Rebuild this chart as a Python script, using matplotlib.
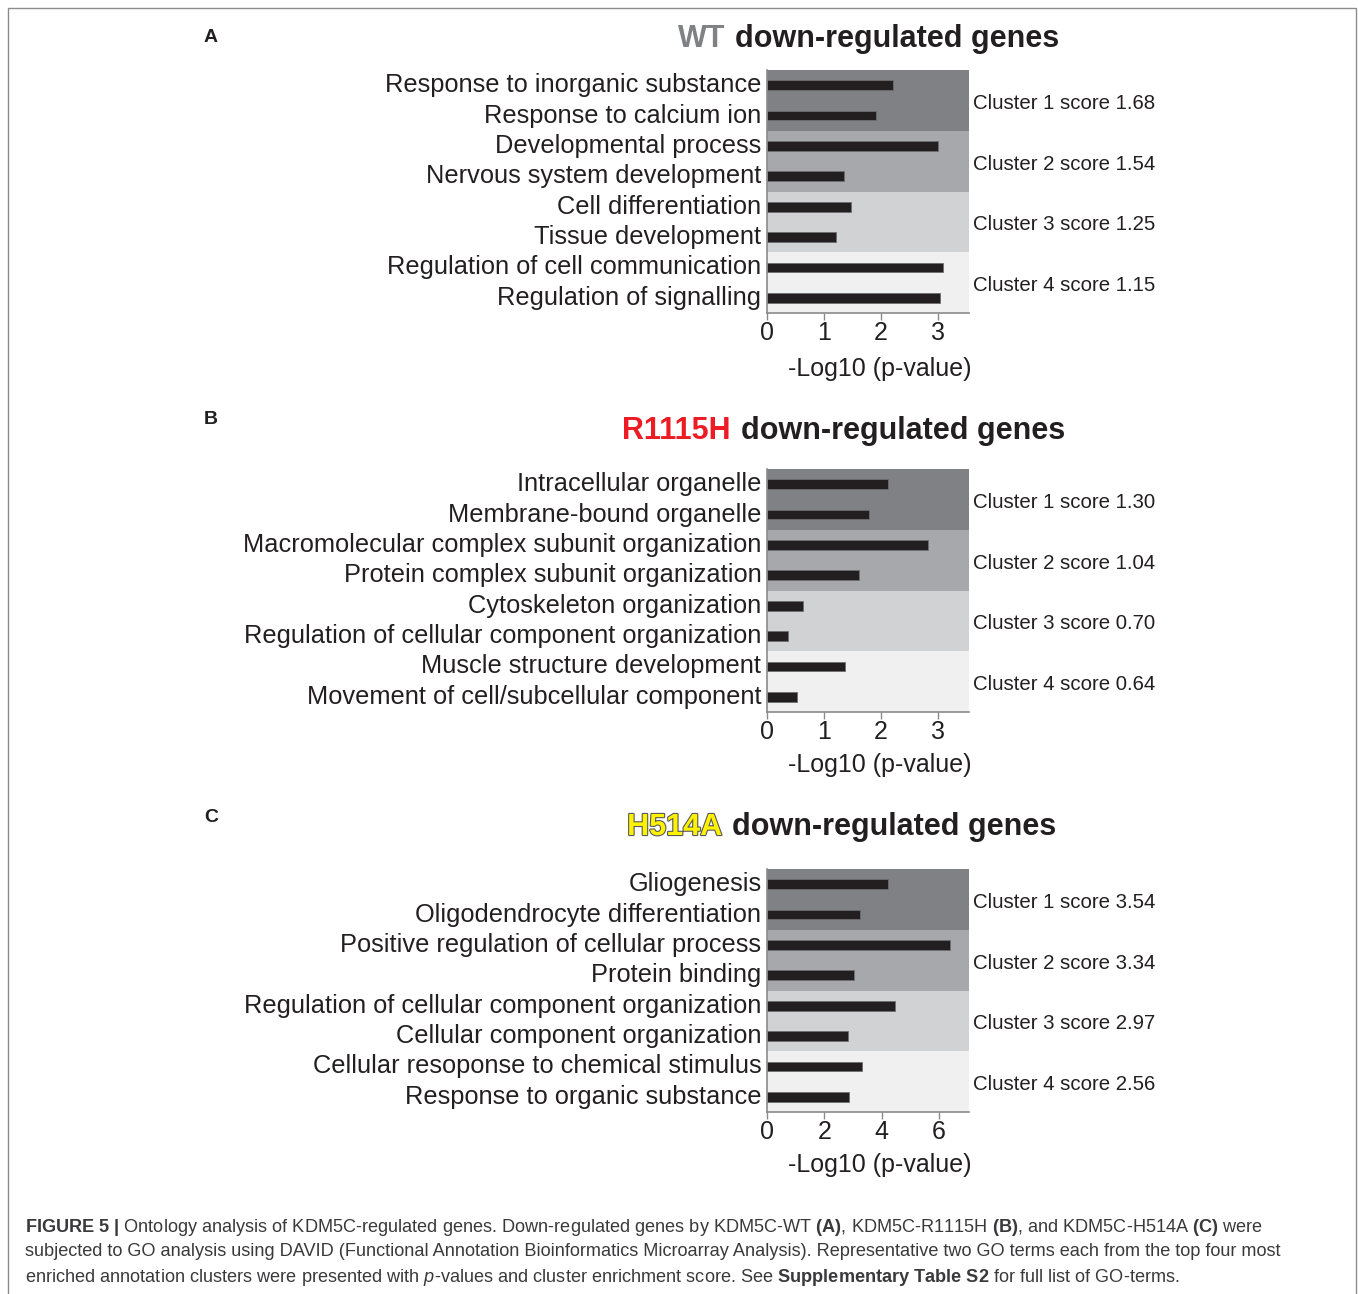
import matplotlib
matplotlib.use("Agg")
import matplotlib.pyplot as plt
import matplotlib.patheffects as pe
from matplotlib.patches import Rectangle
from matplotlib.transforms import blended_transform_factory

plt.rcParams['font.family'] = ['Liberation Sans', 'DejaVu Sans']
plt.rcParams['mathtext.fontset'] = 'custom'
plt.rcParams['mathtext.rm'] = 'Liberation Sans'
plt.rcParams['mathtext.bf'] = 'Liberation Sans:bold'
plt.rcParams['mathtext.it'] = 'Liberation Sans:italic'

W, H = 1358, 1294
TXT = '#231f20'
BAND_COLORS = ['#808184', '#a7a8ab', '#d1d2d4', '#f0f0f0']

# panel A: WT
wt_terms = ['Response to inorganic substance', 'Response to calcium ion',
            'Developmental process', 'Nervous system development',
            'Cell differentiation', 'Tissue development',
            'Regulation of cell communication', 'Regulation of signalling']
wt_vals = [2.20, 1.91, 3.00, 1.35, 1.47, 1.21, 3.09, 3.04]
wt_scores = ['1.68', '1.54', '1.25', '1.15']

# panel B: R1115H
r_terms = ['Intracellular organelle', 'Membrane-bound organelle',
           'Macromolecular complex subunit organization',
           'Protein complex subunit organization', 'Cytoskeleton organization',
           'Regulation of cellular component organization',
           'Muscle structure development',
           'Movement of cell/subcellular component']
r_vals = [2.12, 1.78, 2.82, 1.61, 0.63, 0.36, 1.37, 0.53]
r_scores = ['1.30', '1.04', '0.70', '0.64']

# panel C: H514A
h_terms = ['Gliogenesis', 'Oligodendrocyte differentiation',
           'Positive regulation of cellular process', 'Protein binding',
           'Regulation of cellular component organization',
           'Cellular component organization',
           'Cellular resoponse to chemical stimulus',
           'Response to organic substance']
h_vals = [4.23, 3.26, 6.39, 3.04, 4.46, 2.83, 3.31, 2.87]
h_scores = ['3.54', '3.34', '2.97', '2.56']


def fx(px):
    return px / W


def fy(py):
    return 1 - py / H


fig = plt.figure(figsize=(W / 100, H / 100), dpi=100)
fig.patches.append(Rectangle((fx(8), -0.01), fx(1348), fy(8) + 0.01,
                             transform=fig.transFigure, fill=False,
                             edgecolor='#8c8c8c', lw=1.0))


def panel(top, terms, vals, scores, xmax, ticks, ylab_y):
    ax = fig.add_axes([fx(767), fy(top + 243), fx(202), 243 / H])
    n = len(terms)
    for k, c in enumerate(BAND_COLORS):
        ax.axhspan(2 * k - 0.5, 2 * k + 1.5, color=c, lw=0, zorder=0)
    ax.barh(range(n), vals, height=0.32, color=TXT, edgecolor='#6d6e70',
            lw=0.6, zorder=2)
    ax.set_xlim(0, xmax)
    ax.set_ylim(n - 0.5, -0.5)
    ax.set_yticks(range(n))
    ax.set_yticklabels(terms, fontsize=18.3, color=TXT, va='center')
    for lab in ax.get_yticklabels():
        lab.set_y(lab.get_position()[1])
    ax.tick_params(axis='y', length=0, pad=4)
    ax.set_xticks(ticks)
    ax.set_xticklabels([str(t) for t in ticks], fontsize=18, color=TXT)
    ax.tick_params(axis='x', length=5, width=1, color='#8a8a8a', pad=1)
    for s in ['top', 'right']:
        ax.spines[s].set_visible(False)
    for s in ['left', 'bottom']:
        ax.spines[s].set_color('#8a8a8a')
        ax.spines[s].set_linewidth(1.2)
    ax.set_xlabel('-Log10 (p-value)', fontsize=18, color=TXT, va='center')
    ax.xaxis.set_label_coords((880 - 767) / 202, -(ylab_y - top - 243) / 243,
                              transform=ax.transAxes)
    tr = blended_transform_factory(ax.transAxes, ax.transData)
    for k, sc in enumerate(scores):
        ax.text(1.02, 2 * k + 0.6, f'Cluster {k + 1} score {sc}', transform=tr,
                fontsize=14.7, color=TXT, va='center', ha='left')
    return ax


panel(70, wt_terms, wt_vals, wt_scores, 3.54, [0, 1, 2, 3], 369)
panel(469, r_terms, r_vals, r_scores, 3.54, [0, 1, 2, 3], 765)
panel(869, h_terms, h_vals, h_scores, 7.05, [0, 2, 4, 6], 1165)

# titles
title_kw = dict(fontsize=22, fontweight='bold', va='center')
fig.text(fx(725), fy(39), 'WT', color='#808184', ha='right', **title_kw)
fig.text(fx(735), fy(39), 'down-regulated genes', color=TXT, ha='left', **title_kw)
fig.text(fx(731), fy(431), 'R1115H', color='#ed1c24', ha='right', **title_kw)
fig.text(fx(741), fy(431), 'down-regulated genes', color=TXT, ha='left', **title_kw)
fig.text(fx(722), fy(827), 'H514A', color='#fff200', ha='right',
         path_effects=[pe.withStroke(linewidth=1.6, foreground='#58595b')], **title_kw)
fig.text(fx(732), fy(827), 'down-regulated genes', color=TXT, ha='left', **title_kw)

for letter, y in [('A', 38), ('B', 420), ('C', 817)]:
    fig.text(fx(211), fy(y), letter, fontsize=14, fontweight='bold',
             color=TXT, ha='center', va='center')

caption = [
    r'$\mathbf{FIGURE\ 5\ |}$ Ontology analysis of KDM5C-regulated genes. '
    r'Down-regulated genes by KDM5C-WT $\mathbf{(A)}$, KDM5C-R1115H $\mathbf{(B)}$, '
    r'and KDM5C-H514A $\mathbf{(C)}$ were',
    'subjected to GO analysis using DAVID (Functional Annotation Bioinformatics '
    'Microarray Analysis). Representative two GO terms each from the top four most',
    r'enriched annotation clusters were presented with $\mathit{p}$-values and cluster '
    r'enrichment score. See $\mathbf{Supplementary\ Table\ S2}$ for full list of GO-terms.',
]
for i, line in enumerate(caption):
    fig.text(fx(25), fy(1227 + 25 * i), line, fontsize=13.1, color='#3a3a3c',
             ha='left', va='center')

fig.savefig('out.png', dpi=100, facecolor='white')
